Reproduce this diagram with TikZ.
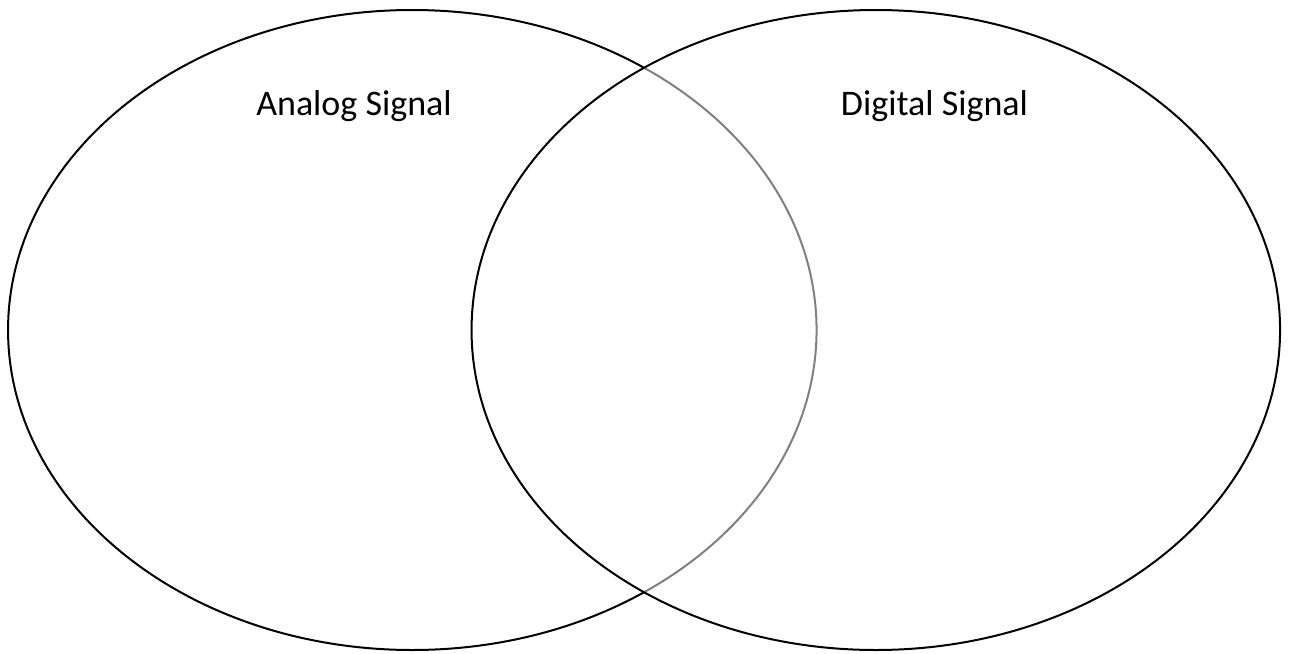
\documentclass[tikz,border=0pt]{standalone}
\usepackage{fontspec}
\setmainfont{Carlito}
\usetikzlibrary{shapes.geometric}
\begin{document}
\begin{tikzpicture}[x=1pt,y=-1pt,
  setellipse/.style={ellipse, inner sep=0pt, minimum width=808.5pt, minimum height=640pt, line width=2pt},
  setlabel/.style={anchor=base, inner sep=0pt, font=\fontsize{36}{40}\selectfont}]
\useasboundingbox (0,0) rectangle (1289,653);
\node[setellipse, draw=black] (analog) at (412.3,330) {};
\node[setellipse, fill=white, fill opacity=0.5] (digitalfill) at (875.8,330) {};
\node[setellipse, draw=black] (digital) at (875.8,330) {};
\node[setlabel] (analoglabel) at (354,115) {Analog Signal};
\node[setlabel] (digitallabel) at (934.5,115) {Digital Signal};
\end{tikzpicture}
\end{document}
